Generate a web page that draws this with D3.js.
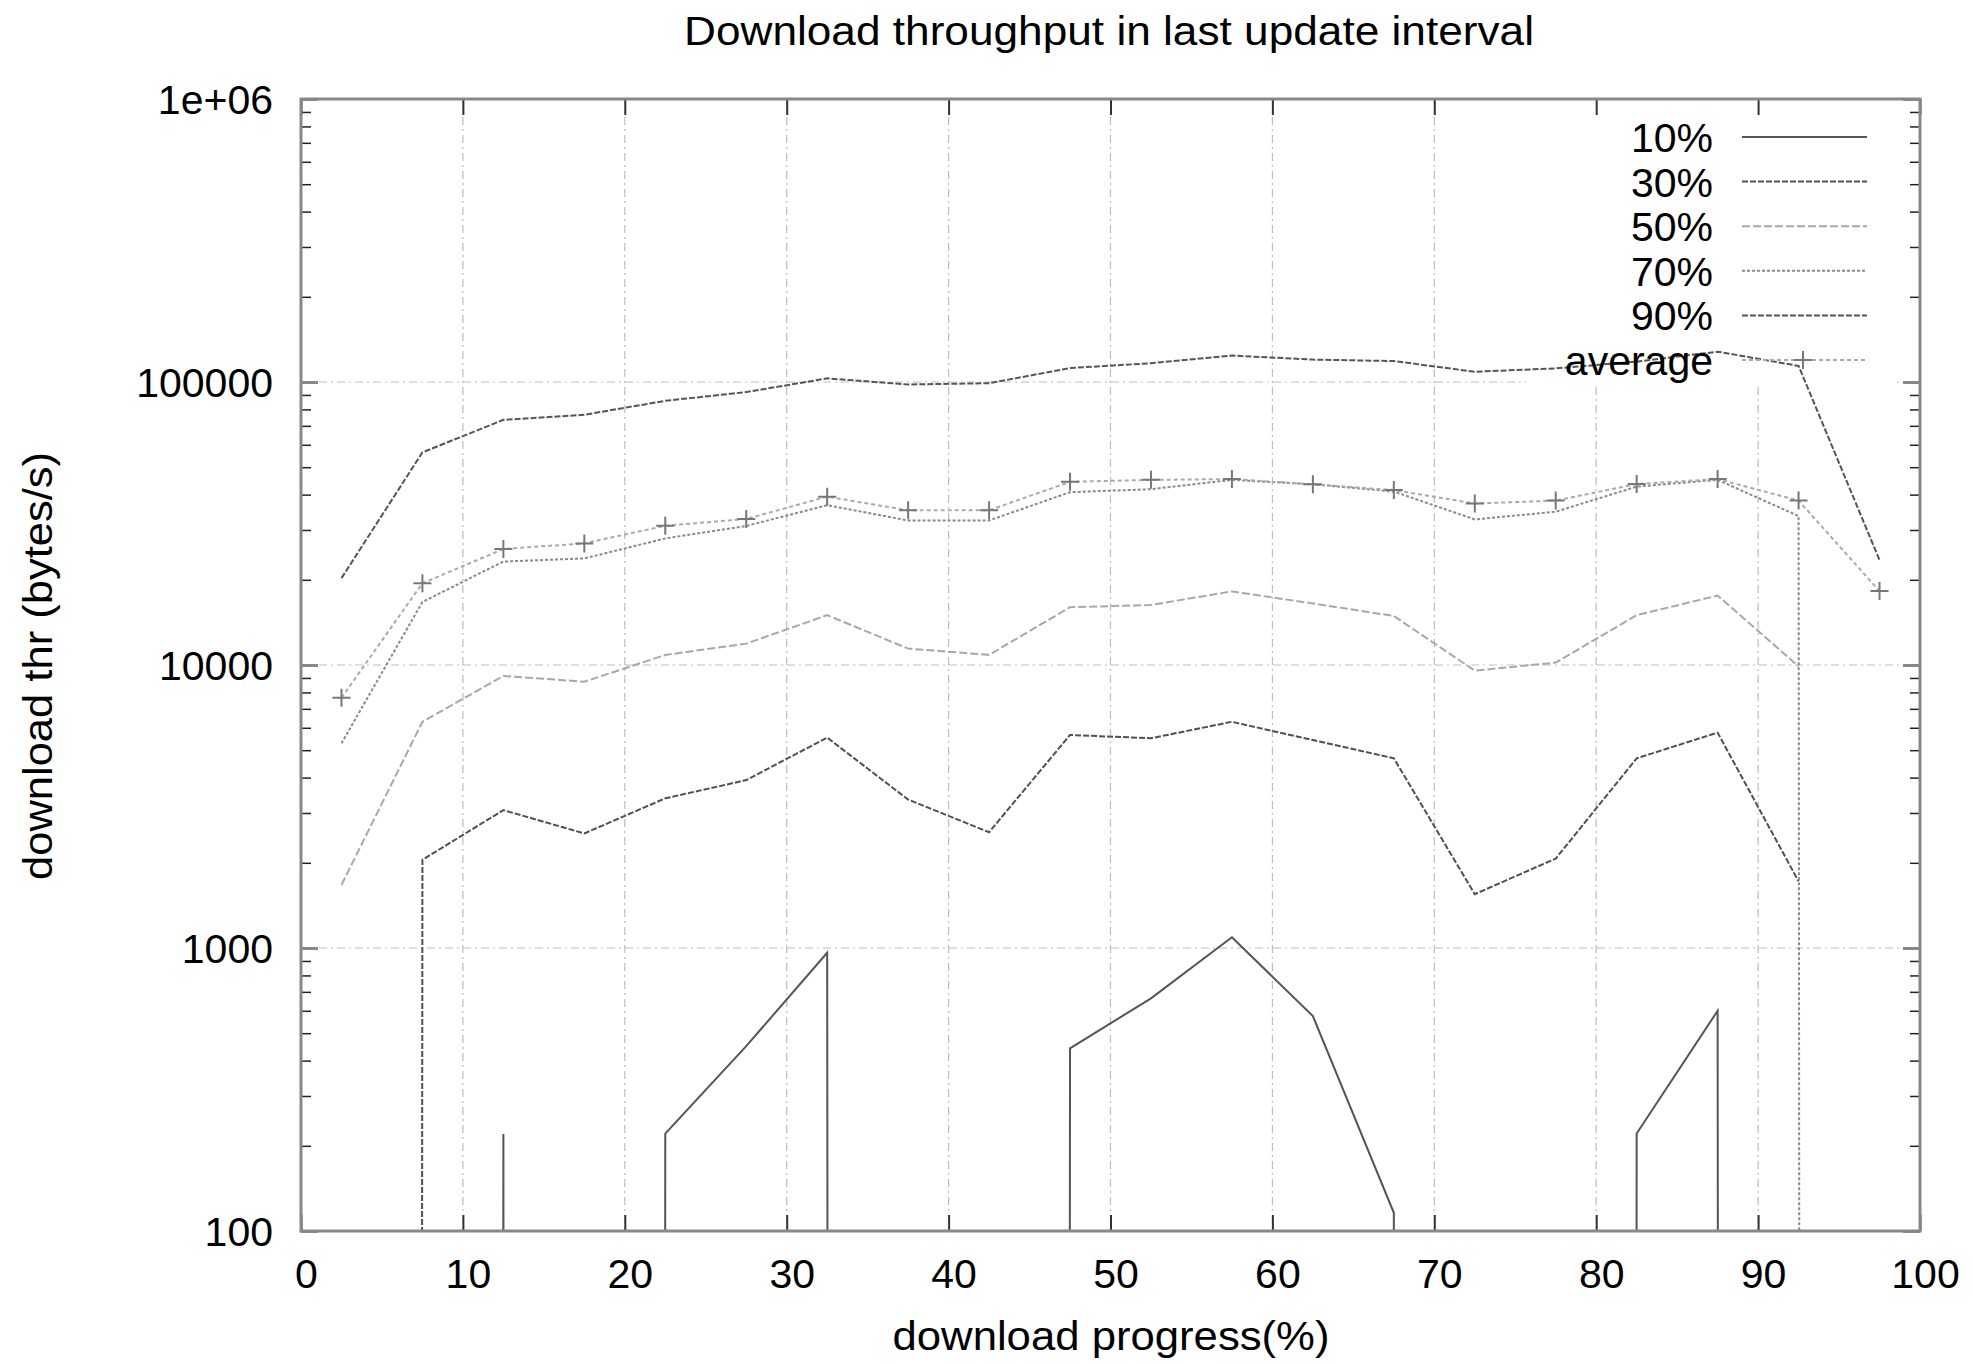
<!DOCTYPE html>
<html>
<head>
<meta charset="utf-8">
<script src="https://cdn.jsdelivr.net/npm/d3@7"></script>
<style>
  body { margin: 0; background: #fff; }
  text { font-family: "Liberation Sans", Arial, sans-serif; fill: #000; }
</style>
</head>
<body>
<div id="chart-area"></div>
<script>
// Datos (null = sin dato, 0 = cae fuera del eje log)
const progress = [2.5, 7.5, 12.5, 17.5, 22.5, 27.5, 32.5, 37.5, 42.5, 47.5,
                  52.5, 57.5, 62.5, 67.5, 72.5, 77.5, 82.5, 87.5, 92.5, 97.5];
const p10 = [0, 0, 220, 0, 221, 450, 962, 0, 0, 442, 664, 1091, 575, 116, 0, 0, 221, 600, 0, 0];
const p30 = [0, 2050, 3070, 2540, 3380, 3920, 5540, 3345, 2565, 5660, 5510, 6300, 5430, 4680, 1550, 2070, 4680, 5770, 1720, null];
const p50 = [1670, 6300, 9150, 8730, 10850, 11900, 15000, 11430, 10860, 16000, 16300, 18200, 16500, 14900, 9550, 10200, 15000, 17600, 9900, null];
const p70 = [5290, 16700, 23200, 23800, 28000, 31000, 36700, 32400, 32400, 40800, 41800, 45100, 43500, 41000, 32700, 34800, 42700, 45100, 33600, 0];
const p90 = [20270, 56400, 73500, 76600, 85800, 92100, 103000, 98000, 99000, 112000, 116500, 124000, 120000, 118600, 108700, 111700, 118000, 128000, 114000, 23500];
const average = [7660, 19450, 25700, 26900, 31050, 32800, 39350, 35200, 35200, 44400, 45100, 45400, 43500, 41500, 37200, 38100, 43600, 45400, 38100, 18250];

const seriesNames = ["10%", "30%", "50%", "70%", "90%", "average"];
const xTicks = [0, 10, 20, 30, 40, 50, 60, 70, 80, 90, 100];
const yTicks = [100, 1000, 10000, 100000, 1000000];
const yTickLabels = ["100", "1000", "10000", "100000", "1e+06"];

// Estilos de las series
const styles = [
    { color: "#555", dash: null },
    { color: "#505050", dash: "6,2" },
    { color: "#a8a8a8", dash: "8,3" },
    { color: "#8a8a8a", dash: "3,2" },
    { color: "#555", dash: "6,2" },
    { color: "#aaa", dash: "4,3" }
];
const seriesData = [p10, p30, p50, p70, p90, average];

// Lienzo y márgenes
const margin = { top: 99, right: 53, bottom: 133, left: 301 };
const width = 1973 - margin.left - margin.right;
const height = 1364 - margin.top - margin.bottom;

const svg = d3.select("#chart-area")
    .append("svg")
    .attr("width", width + margin.left + margin.right)
    .attr("height", height + margin.top + margin.bottom);

const g = svg.append("g")
    .attr("transform", `translate(${margin.left}, ${margin.top})`);

// Escalas
const x = d3.scaleLinear().domain([0, 100]).range([0, width]);
const y = d3.scaleLog().domain([100, 1e6]).range([height, 0]);
const zeroFloor = 1e-300; // los ceros caen muy por debajo del eje (como gnuplot)

// Rejilla
const gridX = xTicks.filter(t => t > 0 && t < 100);
const gridY = yTicks.filter(t => t > 100 && t < 1e6);
g.selectAll(".gx").data(gridX).enter().append("line")
    .attr("x1", d => x(d)).attr("x2", d => x(d))
    .attr("y1", 0).attr("y2", height)
    .attr("stroke", "#bdbdbd").attr("stroke-width", 1.2)
    .attr("stroke-dasharray", "8,4,2,4");
g.selectAll(".gy").data(gridY).enter().append("line")
    .attr("x1", 0).attr("x2", width)
    .attr("y1", d => y(d)).attr("y2", d => y(d))
    .attr("stroke", "#bdbdbd").attr("stroke-width", 1.2)
    .attr("stroke-dasharray", "8,4,2,4");

// Caja de la leyenda (tapa la rejilla)
const keyLeft = 1225, keyRight = 1593, keyBottom = 283;
g.append("rect")
    .attr("x", keyLeft).attr("y", 2)
    .attr("width", keyRight - keyLeft).attr("height", keyBottom)
    .attr("fill", "#fff");

// Recorte del área
svg.append("defs").append("clipPath").attr("id", "plot-clip")
    .append("rect").attr("width", width).attr("height", height);

const line = d3.line()
    .defined(d => d !== null)
    .x((d, i) => x(progress[i]))
    .y(d => y(d > 0 ? d : zeroFloor));

const plot = g.append("g").attr("clip-path", "url(#plot-clip)");

seriesData.forEach((values, k) => {
    plot.append("path")
        .datum(values)
        .attr("fill", "none")
        .attr("stroke", styles[k].color)
        .attr("stroke-width", 2)
        .attr("stroke-dasharray", styles[k].dash)
        .attr("d", line);
});

// Marcadores "+" del promedio
plot.selectAll(".avg-pt")
    .data(average)
    .enter().append("path")
    .attr("class", "avg-pt")
    .attr("transform", (d, i) => `translate(${x(progress[i])}, ${y(d)})`)
    .attr("d", "M-9,0H9M0,-9V9")
    .attr("stroke", "#777")
    .attr("stroke-width", 2);

// Ejes
const minorY = y.ticks().filter(t => !yTicks.includes(t));

function styleAxis(sel) {
    sel.select(".domain").remove();
    sel.selectAll("text").style("font-size", "41px");
}

const xAxis = g.append("g")
    .attr("transform", `translate(0, ${height})`)
    .call(d3.axisBottom(x).tickValues(xTicks).tickFormat(d3.format("d"))
        .tickSize(-16).tickPadding(28));
styleAxis(xAxis);
xAxis.selectAll("line").attr("stroke", "#333").attr("stroke-width", 2);
xAxis.selectAll("text").attr("dx", 5);

const xAxisTop = g.append("g")
    .call(d3.axisTop(x).tickValues(xTicks).tickFormat("").tickSize(-16));
styleAxis(xAxisTop);
xAxisTop.selectAll("line").attr("stroke", "#333").attr("stroke-width", 2);

const yAxis = g.append("g")
    .call(d3.axisLeft(y).tickValues(yTicks)
        .tickFormat((d, i) => yTickLabels[i])
        .tickSize(-17).tickPadding(28));
styleAxis(yAxis);
yAxis.selectAll("line").attr("stroke", "#888").attr("stroke-width", 3);
yAxis.selectAll("text").attr("dy", "0.35em");

const yMinor = g.append("g")
    .call(d3.axisLeft(y).tickValues(minorY).tickFormat("").tickSize(-10));
styleAxis(yMinor);
yMinor.selectAll("line").attr("stroke", "#222").attr("stroke-width", 1.5);

const yAxisRight = g.append("g")
    .attr("transform", `translate(${width}, 0)`)
    .call(d3.axisRight(y).tickValues(yTicks).tickFormat("").tickSize(-17));
styleAxis(yAxisRight);
yAxisRight.selectAll("line").attr("stroke", "#888").attr("stroke-width", 3);

const yMinorRight = g.append("g")
    .attr("transform", `translate(${width}, 0)`)
    .call(d3.axisRight(y).tickValues(minorY).tickFormat("").tickSize(-10));
styleAxis(yMinorRight);
yMinorRight.selectAll("line").attr("stroke", "#222").attr("stroke-width", 1.5);

// Borde
g.append("rect")
    .attr("width", width).attr("height", height)
    .attr("fill", "none")
    .attr("stroke", "#888")
    .attr("stroke-width", 3);

// Leyenda
const legend = g.append("g")
    .attr("transform", "translate(0, 38)");

const legendGroup = legend.selectAll(".legendGroup")
    .data(seriesNames)
    .enter().append("g")
    .attr("class", "legendGroup")
    .attr("transform", (d, i) => `translate(0, ${i * 44.6})`);

legendGroup.append("line")
    .attr("x1", 1441).attr("x2", 1566)
    .attr("stroke", (d, i) => styles[i].color)
    .attr("stroke-width", 2)
    .attr("stroke-dasharray", (d, i) => styles[i].dash);

legendGroup.append("text")
    .attr("x", 1412)
    .attr("y", 15)
    .attr("text-anchor", "end")
    .style("font-size", "41px")
    .text(d => d);

legend.append("path")
    .attr("transform", `translate(1502, ${5 * 44.6})`)
    .attr("d", "M-9,0H9M0,-9V9")
    .attr("stroke", "#777")
    .attr("stroke-width", 2);

// Títulos
svg.append("text")
    .attr("x", 1109).attr("y", 45)
    .attr("text-anchor", "middle")
    .attr("textLength", 850)
    .attr("lengthAdjust", "spacingAndGlyphs")
    .style("font-size", "40px")
    .text("Download throughput in last update interval");

svg.append("text")
    .attr("x", 1111).attr("y", 1350)
    .attr("text-anchor", "middle")
    .attr("textLength", 437)
    .attr("lengthAdjust", "spacingAndGlyphs")
    .style("font-size", "40px")
    .text("download progress(%)");

svg.append("text")
    .attr("transform", "translate(52, 666) rotate(-90)")
    .attr("text-anchor", "middle")
    .attr("textLength", 428)
    .attr("lengthAdjust", "spacingAndGlyphs")
    .style("font-size", "40px")
    .text("download thr (bytes/s)");
</script>
</body>
</html>
